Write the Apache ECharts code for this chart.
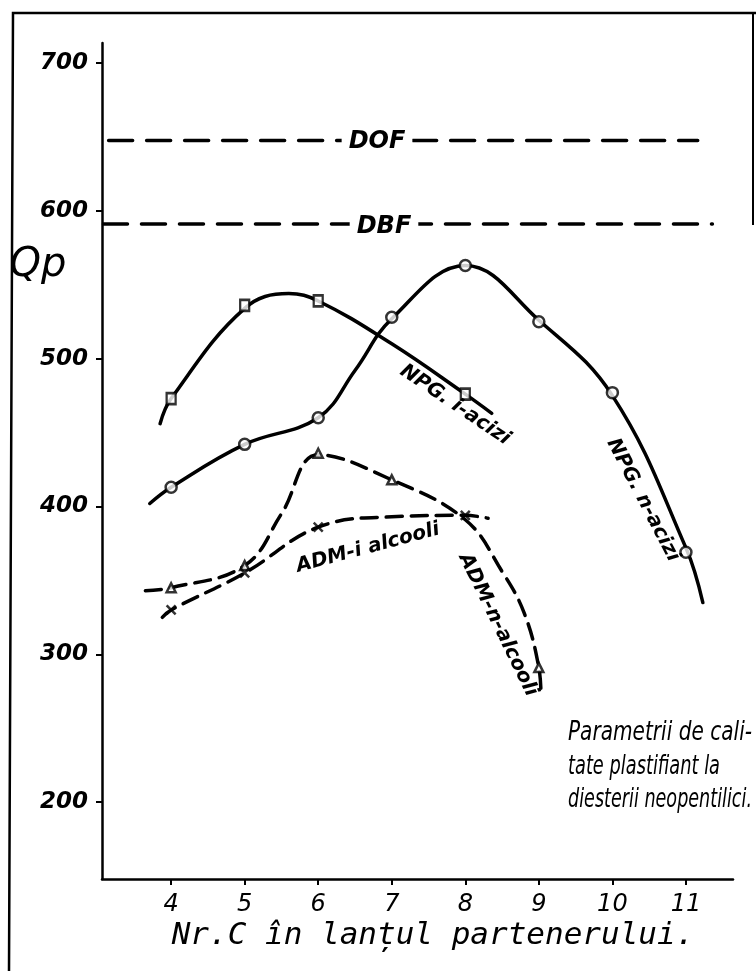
<!DOCTYPE html>
<html>
<head>
<meta charset="utf-8">
<script src="https://cdn.jsdelivr.net/npm/echarts@6/dist/echarts.min.js"></script>
<style>
  html, body { margin: 0; padding: 0; background: #fff; }
  #chart { width: 756px; height: 971px; }
</style>
</head>
<body>
<div id="chart"></div>
<script>
// Number of C atoms in the partner chain (x) and plasticizer quality Qp (y)
const xTicks = [4, 5, 6, 7, 8, 9, 10, 11];
const yTicks = [200, 300, 400, 500, 600, 700];

// NPG i-acids: measured points (squares) and the drawn curve through them
const npgIPoints = [[4, 473], [5, 536], [6, 539], [8, 476]];
const npgICurve = [[3.85, 456], [4, 473], [5, 534], [5.6, 544], [6, 539], [7, 510], [8, 476], [8.36, 463]];

// NPG n-acids: measured points (circles) and curve
const npgNPoints = [[4, 413], [5, 442], [6, 460], [7, 528], [8, 563], [9, 525], [10, 477], [11, 369]];
const npgNCurve = [[3.71, 402], [4, 413], [5, 442], [6, 460], [6.5, 492], [7, 527], [8, 563], [9, 526], [10, 475], [11, 372], [11.23, 335]];

// ADM n-alcohols: measured points (triangles) and dashed curve
const admNPoints = [[4, 345], [5, 360], [6, 436], [7, 418], [9, 291]];
const admNCurve = [[3.65, 343], [4, 345], [5, 360], [5.5, 395], [6, 435], [7, 418], [8, 391], [8.5, 356], [8.8, 328], [9, 291], [9.03, 271]];

// ADM i-alcohols: measured points (crosses) and dashed curve
const admIPoints = [[4, 330], [5, 355], [6, 386], [8, 394]];
const admICurve = [[3.88, 325], [4, 330], [5, 355], [6, 386], [7, 393], [8, 394], [8.31, 392]];

// Reference plasticizers (horizontal levels)
const dofLevel = [[3.15, 647.5], [11.16, 647.5]];
const dbfLevel = [[3.08, 591], [11.36, 591]];

// Note block in the lower right corner
const noteLines = ['Parametrii de cali-', 'tate plastifiant la', 'diesterii neopentilici.'];

const ink = '#000';
const hand = 'italic bold 24px "DejaVu Sans"';
const noteFont = 'italic 27px "DejaVu Sans"';

function curve(data, dashed) {
  return {
    type: 'line', data: data, symbol: 'none', smooth: 0.4,
    lineStyle: { color: ink, width: 3.5, type: dashed ? [16, 9] : 'solid', cap: 'round', join: 'round' },
    z: 2, silent: true
  };
}
function marks(data, symbol, size) {
  return {
    type: 'scatter', data: data, symbol: symbol, symbolSize: size,
    itemStyle: { color: '#fff', borderColor: ink, borderWidth: 2.5 },
    z: 4, silent: true
  };
}
function level(data) {
  return {
    type: 'line', data: data, symbol: 'none',
    lineStyle: { color: ink, width: 3.5, type: [24, 14], cap: 'round' },
    z: 2, silent: true
  };
}
function txt(text, x, y, font, rotDeg, extra) {
  return {
    type: 'text', x: x, y: y, rotation: (rotDeg || 0) * Math.PI / 180, z: 10,
    style: Object.assign({ text: text, font: font, fill: ink, align: 'center', verticalAlign: 'middle' }, extra || {})
  };
}

// hand lettering is narrower than the font: squeeze each note line to its width
const measureCtx = document.createElement('canvas').getContext('2d');
function widthOf(text, font) { measureCtx.font = font; return measureCtx.measureText(text).width; }
const noteWidths = [184, 152, 184];
const noteTops = [733, 767, 800];
const noteGraphics = noteLines.map(function (line, i) {
  return {
    type: 'text', x: 568, y: noteTops[i], scaleX: noteWidths[i] / widthOf(line, noteFont), z: 10,
    style: { text: line, font: noteFont, fill: ink, verticalAlign: 'middle' }
  };
});

const chart = echarts.init(document.getElementById('chart'), null, { renderer: 'canvas' });
chart.setOption({
  backgroundColor: '#fff',
  animation: false,
  grid: { left: 102, right: 23, top: 43, bottom: 92 },
  xAxis: {
    type: 'value', min: 3.06, max: 11.64,
    axisLine: { show: true, lineStyle: { color: ink, width: 2.5 } },
    axisTick: { show: true, customValues: xTicks, length: 6, lineStyle: { color: ink, width: 2 } },
    axisLabel: { customValues: xTicks, margin: 14, color: ink, fontFamily: 'DejaVu Sans', fontStyle: 'italic', fontSize: 24 },
    splitLine: { show: false }
  },
  yAxis: {
    type: 'value', min: 148, max: 713.5,
    axisLine: { show: true, lineStyle: { color: ink, width: 2.5 } },
    axisTick: { show: true, customValues: yTicks, length: 6, lineStyle: { color: ink, width: 2 } },
    axisLabel: { customValues: yTicks, margin: 14, color: ink, fontFamily: 'DejaVu Sans', fontStyle: 'italic', fontWeight: 'bold', fontSize: 23 },
    splitLine: { show: false }
  },
  series: [
    level(dofLevel),
    level(dbfLevel),
    curve(npgICurve, false),
    curve(npgNCurve, false),
    curve(admNCurve, true),
    curve(admICurve, true),
    marks(npgIPoints, 'rect', [9, 11]),
    marks(npgNPoints, 'circle', 11),
    marks(admNPoints, 'triangle', 9),
    marks(admIPoints, 'path://M0,0L10,10M10,0L0,10', 9)
  ],
  graphic: [
    // frame of the drawing sheet
    { type: 'polyline', shape: { points: [[9, 971], [13, 13], [756, 13]] }, style: { stroke: ink, lineWidth: 2.5, fill: null }, z: 1 },
    { type: 'line', shape: { x1: 753, y1: 13, x2: 753, y2: 225 }, style: { stroke: ink, lineWidth: 2 }, z: 1 },
    txt('Qp', 38, 266, 'italic 40px "DejaVu Sans"'),
    txt('DOF', 377, 142, hand, 0, { backgroundColor: '#fff', padding: [0, 7] }),
    txt('DBF', 384, 227, hand, 0, { backgroundColor: '#fff', padding: [0, 7] }),
    txt('NPG. i-acizi', 455, 405, 'italic bold 20px "DejaVu Sans"', -34),
    txt('NPG. n-acizi', 643, 500, 'italic bold 20px "DejaVu Sans"', -62.5),
    txt('ADM-i alcooli', 368, 548, 'italic bold 20px "DejaVu Sans"', 15),
    txt('ADM-n-alcooli', 498, 625, 'italic bold 20px "DejaVu Sans"', -64)
  ].concat(noteGraphics, [
    txt('Nr.C în lanțul partenerului.', 433, 936, 'italic 31px "DejaVu Sans Mono"')
  ])
});
</script>
</body>
</html>
